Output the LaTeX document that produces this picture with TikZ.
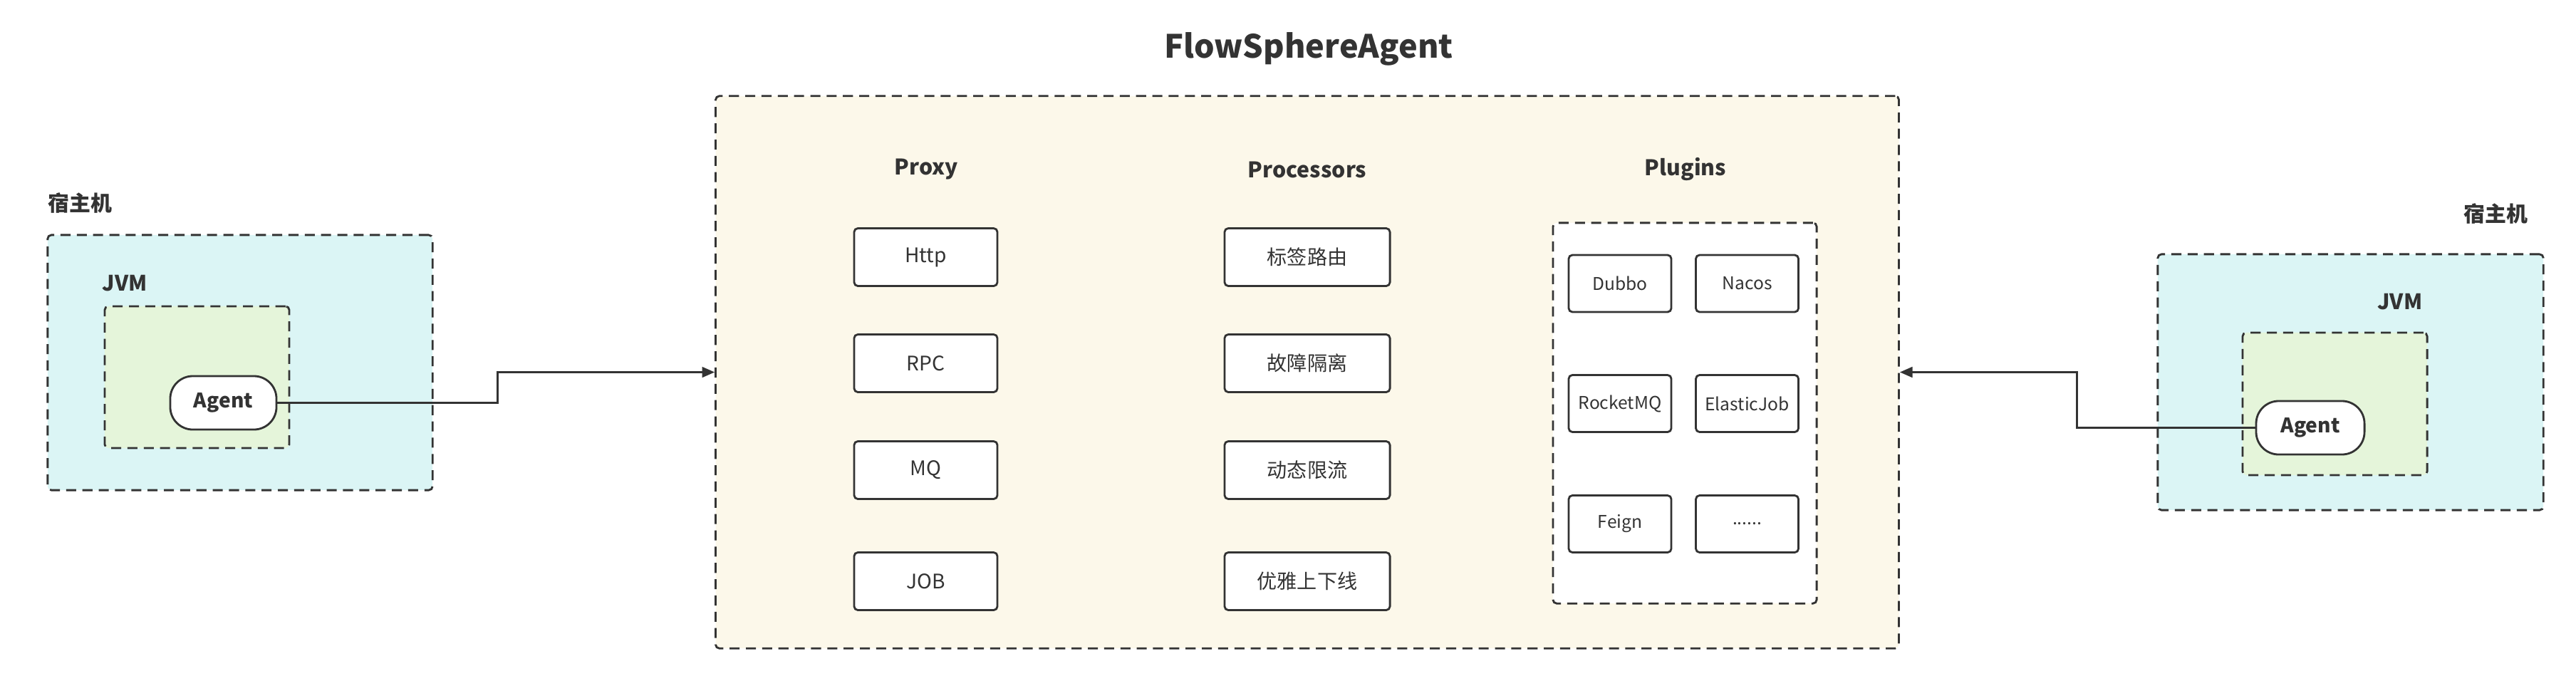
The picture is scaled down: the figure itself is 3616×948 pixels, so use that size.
\documentclass[tikz,border=0pt]{standalone}
\usepackage{fontspec}
\setmainfont{Noto Sans CJK SC}
\usepackage{tikz}
\usetikzlibrary{arrows.meta,positioning}
\usepackage{xcolor}

\definecolor{edgegray}{HTML}{333333}
\definecolor{hostcyan}{HTML}{DBF5F5}
\definecolor{jvmgreen}{HTML}{E5F5DA}
\definecolor{corecream}{HTML}{FCF8EA}

\tikzset{
    dashbox/.style={draw=edgegray, line width=0.8pt, dash pattern=on 4pt off 2.5pt, rounded corners=1.5pt, inner sep=0pt},
    hostbox/.style={dashbox, fill=hostcyan},
    jvmbox/.style={dashbox, fill=jvmgreen},
    agentnode/.style={draw=edgegray, line width=0.8pt, fill=white, rounded corners=9pt, minimum width=1.5cm, minimum height=0.75cm, text=edgegray, font=\fontsize{8}{10}\selectfont\bfseries},
    itembox/.style={draw=edgegray, line width=0.8pt, fill=white, rounded corners=1.5pt, minimum height=0.81cm, text=edgegray, font=\fontsize{8}{10}\selectfont},
    pluginbox/.style={itembox, minimum width=1.44cm, minimum height=0.8cm, font=\fontsize{7}{9}\selectfont},
    headlabel/.style={text=edgegray, font=\fontsize{8.6}{11}\selectfont\bfseries},
    sidelabel/.style={text=edgegray, font=\fontsize{8.5}{10}\selectfont\bfseries, inner sep=0pt},
    link/.style={draw=edgegray, line width=0.7pt, -{Triangle[length=5pt,width=4.2pt]}}
}

\begin{document}
\begin{tikzpicture}[x=0.01cm, y=-0.01cm]
    \useasboundingbox (0,0) rectangle (3616,948);

    % left host
    \node[hostbox, minimum width=5.4cm, minimum height=3.58cm] (hostL) at (337,509) {};
    \node[sidelabel, anchor=west] (hostLlabel) at (67,285) {宿主机};
    \node[jvmbox, minimum width=2.59cm, minimum height=1.99cm] (jvmL) at (276.5,529.5) {};
    \node[sidelabel, anchor=west] (jvmLlabel) at (143,398) {JVM};
    \node[agentnode, minimum width=1.49cm] (agentL) at (313.5,565.5) {Agent};

    % right host
    \node[hostbox, minimum width=5.41cm, minimum height=3.59cm] (hostR) at (3299.5,536.5) {};
    \node[sidelabel, anchor=east] (hostRlabel) at (3549,300) {宿主机};
    \node[jvmbox, minimum width=2.59cm, minimum height=2cm] (jvmR) at (3277.5,567) {};
    \node[sidelabel, anchor=east] (jvmRlabel) at (3401,424) {JVM};
    \node[agentnode, minimum width=1.52cm] (agentR) at (3243,600.5) {Agent};

    % agent core
    \node[text=edgegray, font=\fontsize{12.8}{15}\selectfont\bfseries] (title) at (1837,69) {FlowSphereAgent};
    \node[dashbox, fill=corecream, minimum width=16.6cm, minimum height=7.75cm] (core) at (1835,522.5) {};

    \node[headlabel] (proxy) at (1300,238) {Proxy};
    \node[headlabel] (processors) at (1835,238) {Processors};
    \node[headlabel] (plugins) at (2366,238) {Plugins};

    % proxy column
    \node[itembox, minimum width=2.01cm] (http) at (1299.5,361) {Http};
    \node[itembox, minimum width=2.01cm] (rpc) at (1299.5,510) {RPC};
    \node[itembox, minimum width=2.01cm] (mq) at (1299.5,660) {MQ};
    \node[itembox, minimum width=2.01cm] (job) at (1299.5,816) {JOB};

    % processors column
    \node[itembox, minimum width=2.32cm] (route) at (1835,361) {标签路由};
    \node[itembox, minimum width=2.32cm] (isolate) at (1835,510) {故障隔离};
    \node[itembox, minimum width=2.32cm] (limit) at (1835,660) {动态限流};
    \node[itembox, minimum width=2.32cm] (graceful) at (1835,816) {优雅上下线};

    % plugins column
    \node[dashbox, fill=white, minimum width=3.7cm, minimum height=5.34cm] (pluginset) at (2365,580) {};
    \node[pluginbox] (dubbo) at (2274,398) {Dubbo};
    \node[pluginbox] (nacos) at (2452.5,398) {Nacos};
    \node[pluginbox] (rocketmq) at (2274,566.5) {RocketMQ};
    \node[pluginbox] (elasticjob) at (2452.5,566.5) {ElasticJob};
    \node[pluginbox] (feign) at (2274,735.5) {Feign};
    \node[pluginbox] (more) at (2452.5,735.5) {......};

    % connectors
    \draw[link] (agentL.east) -- ++(309,0) |- (core.west);
    \draw[link] (agentR.west) -- ++(-250,0) |- (core.east);
\end{tikzpicture}
\end{document}
